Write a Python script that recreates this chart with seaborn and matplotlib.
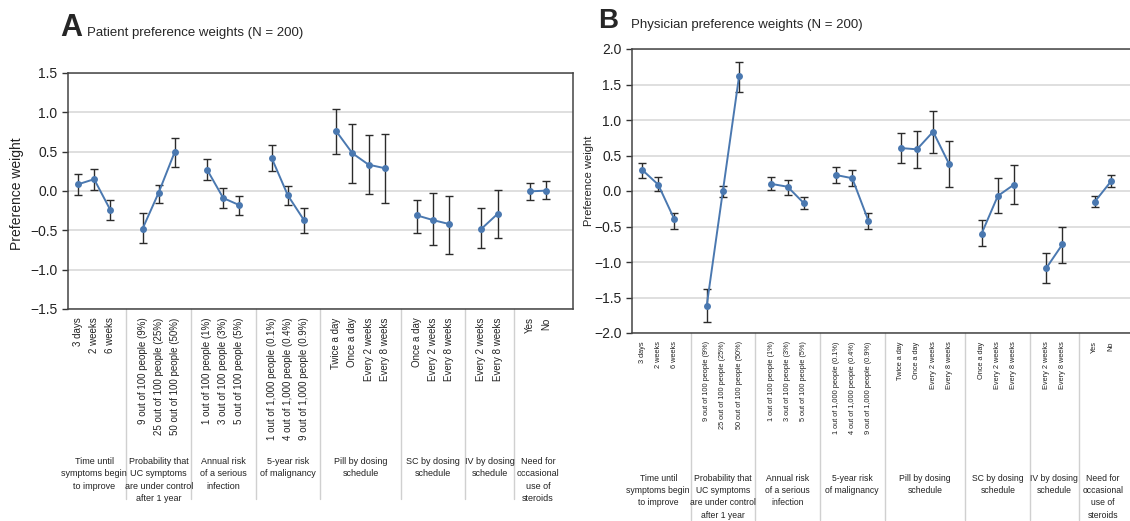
import numpy as np
import pandas as pd
import matplotlib
matplotlib.use("Agg")
import matplotlib.pyplot as plt
import seaborn as sns

# Attribute groups and levels (same for both panels)
group_names = [
    "Time until\nsymptoms begin\nto improve",
    "Probability that\nUC symptoms\nare under control\nafter 1 year",
    "Annual risk\nof a serious\ninfection",
    "5-year risk\nof malignancy",
    "Pill by dosing\nschedule",
    "SC by dosing\nschedule",
    "IV by dosing\nschedule",
    "Need for\noccasional\nuse of\nsteroids",
]
level_labels = [
    ["3 days", "2 weeks", "6 weeks"],
    ["9 out of 100 people (9%)", "25 out of 100 people (25%)", "50 out of 100 people (50%)"],
    ["1 out of 100 people (1%)", "3 out of 100 people (3%)", "5 out of 100 people (5%)"],
    ["1 out of 1,000 people (0.1%)", "4 out of 1,000 people (0.4%)", "9 out of 1,000 people (0.9%)"],
    ["Twice a day", "Once a day", "Every 2 weeks", "Every 8 weeks"],
    ["Once a day", "Every 2 weeks", "Every 8 weeks"],
    ["Every 2 weeks", "Every 8 weeks"],
    ["Yes", "No"],
]

# Patient preference weights with 95% CI
patient_w = [0.085, 0.15, -0.24, -0.48, -0.02, 0.50, 0.27, -0.09, -0.18, 0.42, -0.055, -0.37,
             0.76, 0.48, 0.335, 0.29, -0.31, -0.37, -0.42, -0.48, -0.29, -0.005, 0.005]
patient_lo = [-0.05, 0.01, -0.37, -0.66, -0.15, 0.31, 0.14, -0.21, -0.31, 0.25, -0.18, -0.53,
              0.47, 0.10, -0.04, -0.15, -0.53, -0.69, -0.80, -0.72, -0.60, -0.11, -0.10]
patient_hi = [0.21, 0.28, -0.11, -0.28, 0.07, 0.67, 0.41, 0.04, -0.06, 0.59, 0.06, -0.22,
              1.04, 0.85, 0.71, 0.72, -0.11, -0.03, -0.06, -0.22, 0.01, 0.10, 0.13]

# Physician preference weights with 95% CI
physician_w = [0.30, 0.09, -0.40, -1.615, 0.0, 1.615, 0.10, 0.06, -0.17, 0.225, 0.18, -0.42,
               0.605, 0.587, 0.835, 0.375, -0.60, -0.07, 0.09, -1.085, -0.75, -0.15, 0.136]
physician_lo = [0.19, 0.0, -0.53, -1.85, -0.09, 1.39, 0.01, -0.05, -0.26, 0.11, 0.07, -0.53,
                0.40, 0.32, 0.53, 0.06, -0.78, -0.31, -0.19, -1.30, -1.01, -0.225, 0.056]
physician_hi = [0.40, 0.20, -0.31, -1.375, 0.075, 1.82, 0.20, 0.16, -0.09, 0.34, 0.29, -0.31,
                0.81, 0.84, 1.12, 0.71, -0.41, 0.18, 0.36, -0.88, -0.50, -0.075, 0.23]

# x positions: one empty slot between attribute groups
rows = []
starts = []
start = 0
for g, labs in enumerate(level_labels):
    starts.append(start)
    for i, lab in enumerate(labs):
        rows.append({"group": g, "level": lab, "pos": start + i})
    start += len(labs) + 1
base = pd.DataFrame(rows)

line_color = "#4a78b0"
bar_color = "#2b2b2b"

sns.set_style("white")
plt.rcParams["font.family"] = ["Liberation Sans", "DejaVu Sans"]

fig = plt.figure(figsize=(11.3, 5.21), dpi=100)


def draw_panel(ax, w, lo, hi, ylim, tick_fs, grp_fs, grp_y, sep_y,
               label_x, label_y, label_fs):
    df = base.copy()
    df["weight"] = w
    df["lo"] = lo
    df["hi"] = hi

    ax.errorbar(df["pos"], df["weight"],
                yerr=[df["weight"] - df["lo"], df["hi"] - df["weight"]],
                fmt="none", ecolor=bar_color, elinewidth=1.0, capsize=2.8,
                capthick=1.0, zorder=2)
    sns.lineplot(data=df, x="pos", y="weight", units="group", estimator=None,
                 marker="o", markersize=5, markeredgewidth=0, color=line_color,
                 linewidth=1.4, ax=ax, zorder=3)

    ax.set_xlim(-0.62, df["pos"].max() + 1.67)
    ax.set_ylim(*ylim)
    ax.set_yticks(np.arange(ylim[0], ylim[1] + 0.01, 0.5))
    ax.yaxis.grid(True, color="#dcdcdc", linewidth=1.3)
    ax.set_axisbelow(True)
    ax.set_xticks(df["pos"])
    ax.set_xticklabels(df["level"], rotation=90, fontsize=tick_fs, color="#222222")
    ax.tick_params(axis="x", length=0, pad=6)
    ax.tick_params(axis="y", length=4, width=1, color="#333333", labelsize=10,
                   labelcolor="#222222", left=True, direction="out")
    for s in ax.spines.values():
        s.set_color("#444444")
        s.set_linewidth(1.1)
    ax.set_xlabel("")
    ax.set_ylabel("Preference weight", fontsize=label_fs, color="#222222")
    ax.yaxis.set_label_coords(label_x, label_y)

    trans = ax.get_xaxis_transform()
    for g in range(1, len(starts)):
        xs = starts[g] - 1
        ax.plot([xs, xs], [0, sep_y], transform=trans, color="#d0d0d0",
                linewidth=1.0, clip_on=False)
    for g, name in enumerate(group_names):
        xc = starts[g] + (len(level_labels[g]) - 1) / 2
        ax.text(xc, grp_y, name, transform=trans, ha="center", va="top",
                fontsize=grp_fs, linespacing=1.45, color="#222222")


axA = fig.add_axes([68 / 1130, (521 - 309) / 521, 505 / 1130, 236 / 521])
draw_panel(axA, patient_w, patient_lo, patient_hi, (-1.5, 1.5),
           tick_fs=7, grp_fs=6.5, grp_y=-0.628, sep_y=-0.805,
           label_x=-0.087, label_y=0.49, label_fs=10)

axB = fig.add_axes([632 / 1130, (521 - 333) / 521, 506 / 1130, 284 / 521])
draw_panel(axB, physician_w, physician_lo, physician_hi, (-2.0, 2.0),
           tick_fs=5.3, grp_fs=6.2, grp_y=-0.497, sep_y=-0.658,
           label_x=-0.076, label_y=0.535, label_fs=8)
axB.spines["right"].set_visible(False)

fig.text(60 / 1130, 1 - 36 / 521, "A", fontsize=22, fontweight="bold", va="baseline")
fig.text(87 / 1130, 1 - 36 / 521, "Patient preference weights (N = 200)", fontsize=9.5,
         va="baseline")
fig.text(598 / 1130, 1 - 28 / 521, "B", fontsize=20, fontweight="bold", va="baseline")
fig.text(631 / 1130, 1 - 28 / 521, "Physician preference weights (N = 200)", fontsize=9.5,
         va="baseline")

fig.savefig("out.png", dpi=100)
